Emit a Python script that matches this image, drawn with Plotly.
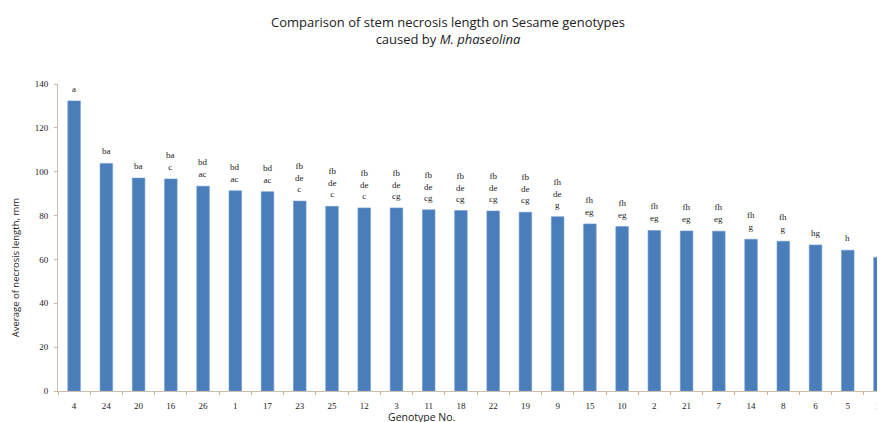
import plotly.graph_objects as go

genotypes = ["4", "24", "20", "16", "26", "1", "17", "23", "25", "12", "3", "11", "18",
             "22", "19", "9", "15", "10", "2", "21", "7", "14", "8", "6", "5", "13"]
necrosis = [132.3, 103.8, 97.1, 96.7, 93.4, 91.3, 90.9, 86.6, 84.2, 83.5, 83.5, 82.6, 82.3,
            82.1, 81.5, 79.5, 76.2, 75.0, 73.2, 73.0, 72.9, 69.2, 68.3, 66.6, 64.2, 61.0]
letters = ["a", "ba", "ba", "ba<br>c", "bd<br>ac", "bd<br>ac", "bd<br>ac",
           "fb<br>de<br>c", "fb<br>de<br>c", "fb<br>de<br>c", "fb<br>de<br>cg",
           "fb<br>de<br>cg", "fb<br>de<br>cg", "fb<br>de<br>cg", "fb<br>de<br>cg",
           "fh<br>de<br>g", "fh<br>eg", "fh<br>eg", "fh<br>eg", "fh<br>eg", "fh<br>eg",
           "fh<br>g", "fh<br>g", "hg", "h", "h"]

# the page body has an 8px margin, so the figure starts at (8, 8) in the window;
# size the figure so that it ends exactly at the window's right/bottom edge
OFF = 8
W, H = 885 - OFF, 422 - OFF
L, R, T, B = 50, 0, 76, 31
pw, ph = W - L - R, H - T - B
XR = [-0.5, 25.0]   # the chart is cut at the right edge, like the reference

def px(x):  # window pixel -> paper x
    return (x - OFF - L) / pw

def py(y):  # window pixel -> paper y
    return (H - B - (y - OFF)) / ph

fig = go.Figure(go.Bar(
    x=genotypes, y=necrosis,
    marker=dict(color="#4a7ebb", line=dict(color="#6f9bd1", width=0.6)),
    width=0.39,
))

annotations = []
for i, (v, t) in enumerate(zip(necrosis, letters)):
    annotations.append(dict(x=i, y=v, xref="x", yref="y", text=t, showarrow=False,
                            yanchor="bottom", yshift=5,
                            font=dict(family="Liberation Serif", size=9, color="#222")))

annotations += [
    dict(x=px(450), y=py(30.5), xref="paper", yref="paper", showarrow=False,
         text="Comparison of stem necrosis length on Sesame genotypes<br>caused by <i>M. phaseolina</i>",
         font=dict(family="Open Sans", size=13, color="#222"), xanchor="center", yanchor="middle"),
    dict(x=px(15), y=py(268), xref="paper", yref="paper", showarrow=False, textangle=-90,
         text="Average of necrosis length, mm",
         font=dict(family="Open Sans", size=9.5, color="#222"), xanchor="center", yanchor="middle"),
    dict(x=px(424), y=py(416.5), xref="paper", yref="paper", showarrow=False,
         text="Genotype No.",
         font=dict(family="Open Sans", size=10.5, color="#222"), xanchor="center", yanchor="middle"),
]

fig.update_layout(
    width=W, height=H,
    margin=dict(l=L, r=R, t=T, b=B, pad=0),
    paper_bgcolor="white", plot_bgcolor="white",
    showlegend=False,
    annotations=annotations,
    xaxis=dict(type="category", range=XR, showline=True, linecolor="#c9bfae",
               linewidth=1, ticks="outside", tickson="boundaries", ticklen=3,
               tickcolor="#d2b48c", showgrid=False, ticklabelstandoff=6,
               tickfont=dict(family="Liberation Serif", size=9, color="#222")),
    yaxis=dict(range=[0, 140], dtick=20, showline=True, linecolor="#c9bfae", linewidth=1,
               ticks="outside", ticklen=3, tickcolor="#d2b48c", showgrid=False,
               zeroline=False, ticklabelstandoff=4,
               tickfont=dict(family="Liberation Serif", size=9, color="#222")),
)

fig.write_html("out.html")
